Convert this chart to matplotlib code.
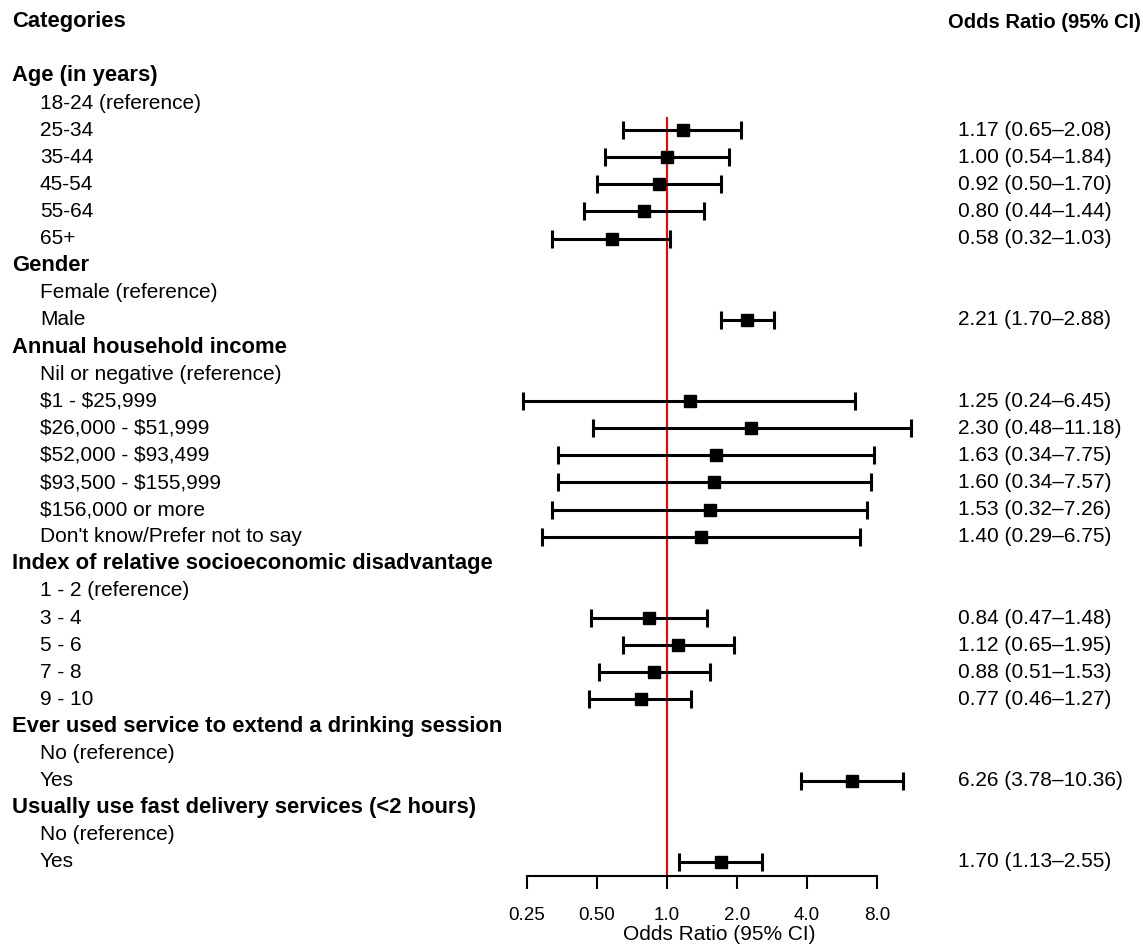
import matplotlib
matplotlib.use("Agg")
import matplotlib.pyplot as plt
import matplotlib.transforms as mtransforms

plt.rcParams['font.family'] = ['Liberation Sans', 'DejaVu Sans']
plt.rcParams['text.parse_math'] = False  # keep the $ signs literal

# rows of the table: (label, is_header)
labels = [
    ("Age (in years)", True),
    ("18-24 (reference)", False),
    ("25-34", False),
    ("35-44", False),
    ("45-54", False),
    ("55-64", False),
    ("65+", False),
    ("Gender", True),
    ("Female (reference)", False),
    ("Male", False),
    ("Annual household income", True),
    ("Nil or negative (reference)", False),
    ("$1 - $25,999", False),
    ("$26,000 - $51,999", False),
    ("$52,000 - $93,499", False),
    ("$93,500 - $155,999", False),
    ("$156,000 or more", False),
    ("Don't know/Prefer not to say", False),
    ("Index of relative socioeconomic disadvantage", True),
    ("1 - 2 (reference)", False),
    ("3 - 4", False),
    ("5 - 6", False),
    ("7 - 8", False),
    ("9 - 10", False),
    ("Ever used service to extend a drinking session", True),
    ("No (reference)", False),
    ("Yes", False),
    ("Usually use fast delivery services (<2 hours)", True),
    ("No (reference)", False),
    ("Yes", False),
]

# estimated rows (row index into labels)
est_rows = [2, 3, 4, 5, 6, 9, 12, 13, 14, 15, 16, 17, 20, 21, 22, 23, 26, 29]
odds = [1.17, 1.00, 0.92, 0.80, 0.58, 2.21, 1.25, 2.30, 1.63, 1.60, 1.53, 1.40,
        0.84, 1.12, 0.88, 0.77, 6.26, 1.70]
lower = [0.65, 0.54, 0.50, 0.44, 0.32, 1.70, 0.24, 0.48, 0.34, 0.34, 0.32, 0.29,
         0.47, 0.65, 0.51, 0.46, 3.78, 1.13]
upper = [2.08, 1.84, 1.70, 1.44, 1.03, 2.88, 6.45, 11.18, 7.75, 7.57, 7.26, 6.75,
         1.48, 1.95, 1.53, 1.27, 10.36, 2.55]

ticks = [0.25, 0.5, 1.0, 2.0, 4.0, 8.0]
tick_labels = ["0.25", "0.50", "1.0", "2.0", "4.0", "8.0"]

W, H = 1143, 946
fig = plt.figure(figsize=(W / 100, H / 100), dpi=100)

# forest axes: x from 527px to 877px, bottom spine at 876px
ax = fig.add_axes([527 / W, 1 - 876 / H, 350 / W, 876 / H])
ax.set_xscale('log', base=2)
ax.set_xlim(0.25, 8)
row_h = 27.1
ax.set_ylim((876 - 76) / row_h, -76 / row_h)

for s in ['top', 'left', 'right']:
    ax.spines[s].set_visible(False)
ax.spines['bottom'].set_linewidth(1.5)
ax.set_yticks([])
ax.set_xticks(ticks)
ax.set_xticklabels(tick_labels, fontsize=13.5)
ax.xaxis.set_minor_locator(matplotlib.ticker.NullLocator())
ax.tick_params(axis='x', length=9, width=1.5, pad=13)
ax.set_xlabel("Odds Ratio (95% CI)", fontsize=15)
ax.xaxis.set_label_coords(0.549, -49 / 876)

# reference line
ax.vlines(1.0, 1.5, (876 - 76) / row_h, color='red', lw=1.5, zorder=1)

xerr = [[o - l for o, l in zip(odds, lower)], [u - o for o, u in zip(odds, upper)]]
eb = ax.errorbar(odds, est_rows, xerr=xerr, fmt='s', color='black', ms=8,
                 elinewidth=2.2, capsize=6.5, capthick=2.2, zorder=3, clip_on=False)
for part in eb.lines[1] + eb.lines[2]:
    part.set_clip_on(False)

# text columns
tr = mtransforms.blended_transform_factory(fig.transFigure, ax.transData)
fig.text(12 / W, 1 - 22 / H, "Categories", fontsize=15.8, fontweight='bold', va='center')
fig.text(1141 / W, 1 - 22 / H, "Odds Ratio (95% CI)", fontsize=14.5, fontweight='bold',
         va='center', ha='right')

for i, (lab, header) in enumerate(labels):
    if header:
        ax.text(12 / W, i, lab, transform=tr, fontsize=15.8, fontweight='bold', va='center')
    else:
        ax.text(40 / W, i, lab, transform=tr, fontsize=15, va='center')

for r, o, l, u in zip(est_rows, odds, lower, upper):
    ax.text(958 / W, r, f"{o:.2f} ({l:.2f}\u2013{u:.2f})", transform=tr,
            fontsize=15, va='center')

fig.savefig("out.png", dpi=100)
